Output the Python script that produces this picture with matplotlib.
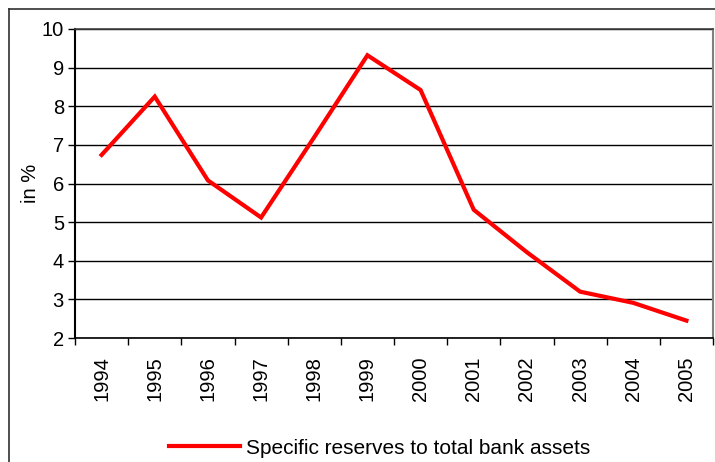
import matplotlib.pyplot as plt
from matplotlib.lines import Line2D

plt.rcParams['font.family'] = ['Liberation Sans', 'DejaVu Sans']

# data
years = ['1994', '1995', '1996', '1997', '1998', '1999',
         '2000', '2001', '2002', '2003', '2004', '2005']
reserves = [6.74, 8.25, 6.08, 5.12, 7.2, 9.32,
            8.42, 5.32, 4.22, 3.2, 2.91, 2.45]
series_label = 'Specific reserves to total bank assets'
y_ticks = [2, 3, 4, 5, 6, 7, 8, 9, 10]

W, H = 715, 462
fig = plt.figure(figsize=(W / 100, H / 100), dpi=100)
ax = fig.add_axes([75 / W, 1 - 338 / H, (713 - 75) / W, (338 - 29) / H])

x = list(range(len(years)))
ax.plot(x, reserves, color='#ff0000', linewidth=3, solid_joinstyle='miter',
        label=series_label, zorder=3)

ax.set_xlim(-0.5, len(years) - 0.5)
ax.set_ylim(y_ticks[0], y_ticks[-1])
ax.set_yticks(y_ticks)
ax.set_xticks(x)
ax.set_xticklabels(years, rotation=90)
ax.set_xticks([i - 0.5 for i in range(len(years) + 1)], minor=True)

ax.tick_params(axis='x', which='major', length=0, pad=13, labelsize=14.5)
ax.tick_params(axis='x', which='minor', length=5, width=1, direction='out')
ax.tick_params(axis='y', length=5, width=1, direction='out', pad=3, labelsize=14.5)

ax.grid(axis='y', color='black', linewidth=1)
ax.set_axisbelow(True)

ax.spines['left'].set_color('black')
ax.spines['left'].set_linewidth(1.5)
ax.spines['bottom'].set_color('black')
ax.spines['bottom'].set_linewidth(1.2)
ax.spines['top'].set_color('#404040')
ax.spines['top'].set_linewidth(1.2)
ax.spines['right'].set_color('#808080')
ax.spines['right'].set_linewidth(1.5)

ax.set_ylabel('in %', fontsize=14.5, labelpad=1)

fig.legend(loc='center', bbox_to_anchor=(380 / W, 1 - 448 / H), frameon=False,
           fontsize=15, handlelength=3.4, handletextpad=0.3)

# outer chart frame (only left and top edges visible)
fig.add_artist(Line2D([9 / W, 9 / W], [0, 1 - 9 / H], color='#303030', linewidth=1.2))
fig.add_artist(Line2D([9 / W, 1], [1 - 9 / H, 1 - 9 / H], color='#303030', linewidth=1.2))

fig.savefig('out.png', dpi=100)
